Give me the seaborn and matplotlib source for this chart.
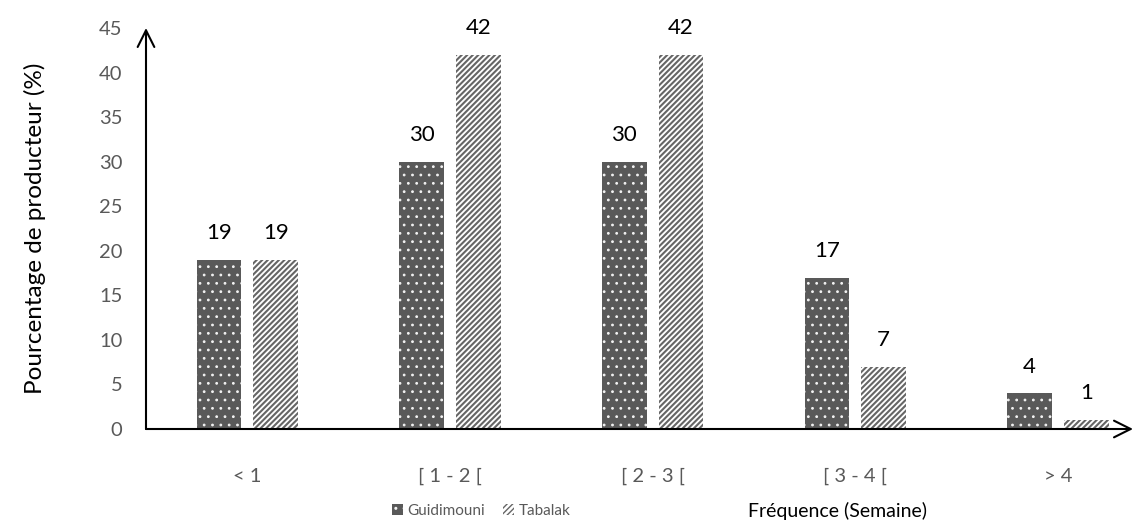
import matplotlib
matplotlib.use("Agg")
import matplotlib.pyplot as plt
import seaborn as sns
import pandas as pd
from matplotlib.patches import Patch

# Data
categories = ["< 1", "[ 1 - 2 [", "[ 2 - 3 [", "[ 3 - 4 [", "> 4"]
guidimouni = [19, 30, 30, 17, 4]
tabalak = [19, 42, 42, 7, 1]
series_names = ["Guidimouni", "Tabalak"]
y_ticks = [0, 5, 10, 15, 20, 25, 30, 35, 40, 45]

df = pd.DataFrame({
    "cat": categories * 2,
    "val": guidimouni + tabalak,
    "site": [series_names[0]] * len(categories) + [series_names[1]] * len(categories),
})

sns.set_theme(style="white")
plt.rcParams["font.family"] = ["Lato", "DejaVu Sans"]

dark = "#595959"
stripe = "#666666"
tick_grey = "#595959"


def set_hatch_lw(patch, lw):
    if hasattr(patch, "set_hatch_linewidth"):
        patch.set_hatch_linewidth(lw)
    else:
        plt.rcParams["hatch.linewidth"] = lw


fig = plt.figure(figsize=(11.35, 5.25), dpi=100)
ax = fig.add_axes([146 / 1135, (525 - 429) / 525, (1133 - 146) / 1135, (429 - 28) / 525])

sns.barplot(data=df, x="cat", y="val", hue="site", order=categories,
            hue_order=series_names, width=0.56, gap=0.21, dodge=True,
            palette=[dark, "white"], edgecolor="none", linewidth=0,
            legend=False, ax=ax)

# Patterns: dotted dark bars, diagonal striped light bars
n = len(categories)
for i, p in enumerate(ax.patches[:2 * n]):
    if i < n:
        p.set_facecolor(dark)
        p.set_hatch("..")
        p.set_edgecolor("#f2f2f2")
        p.set_linewidth(0)
        set_hatch_lw(p, 0.8)
    else:
        p.set_facecolor("white")
        p.set_hatch("//////")
        p.set_edgecolor(stripe)
        p.set_linewidth(0)
        set_hatch_lw(p, 1.5)

# Value labels
for cont in ax.containers:
    ax.bar_label(cont, padding=12, fontsize=16, color="black")

ax.set_xlim(-0.5, 4.37)
ax.set_ylim(0, 45)
ax.set_yticks(y_ticks)
ax.tick_params(axis="y", length=0, pad=17, labelsize=14.5, labelcolor=tick_grey)
ax.tick_params(axis="x", length=0, pad=28, labelsize=14.5, labelcolor=tick_grey)
ax.set_xlabel("")
ax.set_ylabel("Pourcentage de producteur (%)", fontsize=17.5, color="black", labelpad=38)

for s in ax.spines.values():
    s.set_visible(False)

# Axes drawn as arrows
arrow_kw = dict(arrowstyle="->,head_length=1.0,head_width=0.5", color="black", lw=1.5,
                shrinkA=0, shrinkB=0)
ax.annotate("", xy=(0, 1.0), xytext=(0, 0), xycoords="axes fraction",
            textcoords="axes fraction", arrowprops=arrow_kw, annotation_clip=False)
ax.annotate("", xy=(1.0, 0), xytext=(0, 0), xycoords="axes fraction",
            textcoords="axes fraction", arrowprops=arrow_kw, annotation_clip=False)

# Legend
leg_dark = Patch(facecolor=dark, edgecolor="#f2f2f2", hatch="..", linewidth=0, label=series_names[0])
leg_str = Patch(facecolor="white", edgecolor=stripe, hatch="//////", linewidth=0, label=series_names[1])
fig.legend(handles=[leg_dark, leg_str], loc="center", bbox_to_anchor=(481 / 1135, 1 - 511 / 525),
           ncol=2, frameon=False, fontsize=11, handlelength=0.7, handleheight=0.7,
           handletextpad=0.3, columnspacing=1.2, labelcolor=tick_grey)

fig.text(748 / 1135, 1 - 511 / 525, "Fréquence (Semaine)", fontsize=14,
         color="black", ha="left", va="center")

fig.savefig("out.png", dpi=100)
